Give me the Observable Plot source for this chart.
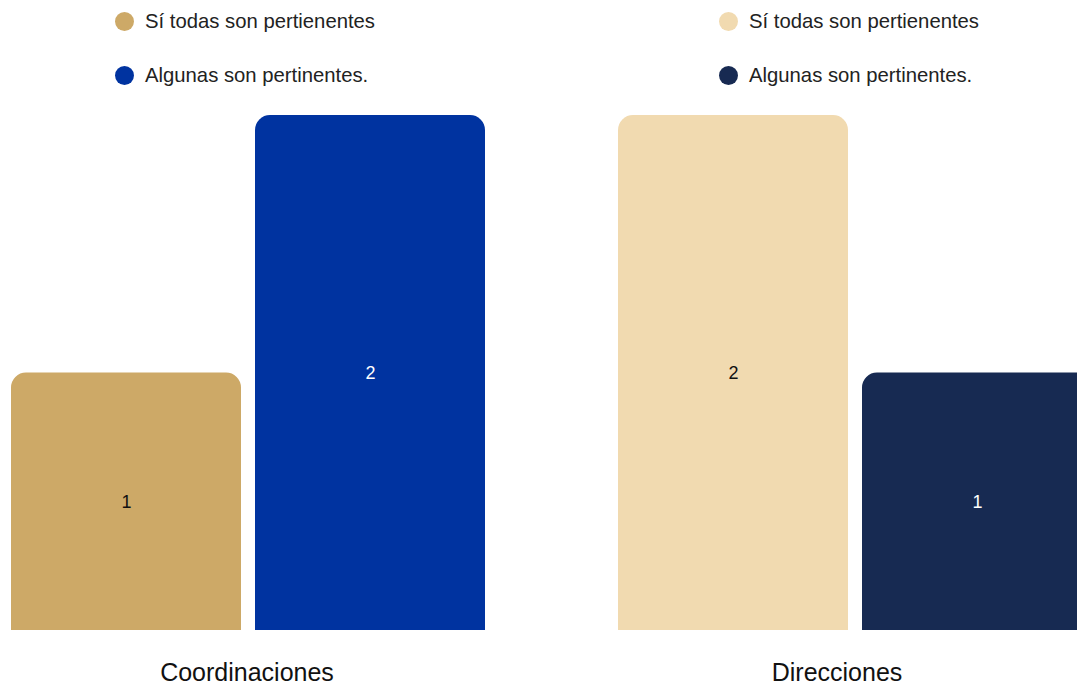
<!DOCTYPE html>
<html>
<head>
<meta charset="utf-8">
<script src="https://cdn.jsdelivr.net/npm/d3@7"></script>
<script src="https://cdn.jsdelivr.net/npm/@observablehq/plot@0.6"></script>
<style>
  html, body { margin: 0; padding: 0; background: #fff; overflow: hidden; }
  body { width: 1077px; height: 685px; position: relative; font-family: "Liberation Sans", Arial, sans-serif; }
  #legend { position: relative; height: 100px; width: 1077px; }
  .item { position: absolute; display: flex; align-items: center; font-size: 20.3px; color: #222; white-space: nowrap; }
  .dot { width: 19px; height: 19px; border-radius: 50%; margin-right: 11px; flex: none; }
  #chart { position: absolute; top: 100px; left: 0; width: 1100px; }
</style>
</head>
<body>
<div id="legend"></div>
<div id="chart"></div>
<script>
// ---- data ----
const groups = ["Coordinaciones", "Direcciones"];
const series = ["Sí todas son pertienentes", "Algunas son pertinentes."];
const coordinacionesValues = [1, 2];
const direccionesValues = [2, 1];

// ---- palette (per group, per series) ----
const palette = {
  "Coordinaciones": ["#CDA967", "#0033A0"],
  "Direcciones": ["#F1DAB0", "#172A52"]
};
const labelInk = {
  "Coordinaciones": ["#111", "#fff"],
  "Direcciones": ["#111", "#fff"]
};

const valuesByGroup = {"Coordinaciones": coordinacionesValues, "Direcciones": direccionesValues};
const data = [];
for (const g of groups) {
  series.forEach((s, i) => data.push({group: g, serie: s, value: valuesByGroup[g][i], key: g + "|" + s}));
}

// ---- legend ----
const legend = document.getElementById("legend");
const legendX = {"Coordinaciones": 115, "Direcciones": 719};
const legendY = [10, 64];
for (const g of groups) {
  series.forEach((s, i) => {
    const it = document.createElement("div");
    it.className = "item";
    it.style.left = legendX[g] + "px";
    it.style.top = legendY[i] + "px";
    it.innerHTML = `<span class="dot" style="background:${palette[g][i]}"></span><span>${s}</span>`;
    legend.appendChild(it);
  });
}

// ---- chart ----
const keys = data.map(d => d.key);
const colors = data.map(d => palette[d.group][series.indexOf(d.serie)]);
const inks = data.map(d => labelInk[d.group][series.indexOf(d.serie)]);

const chart = Plot.plot({
  width: 1100,
  height: 585,
  marginLeft: 11,
  marginRight: 7,
  marginTop: 15,
  marginBottom: 55,
  style: {fontFamily: "Liberation Sans, Arial, sans-serif", background: "transparent", overflow: "visible", maxWidth: "none"},
  fx: {domain: groups, paddingInner: 0.2175, paddingOuter: 0, label: null},
  x: {domain: series, paddingInner: 0.057, paddingOuter: 0, axis: null},
  y: {domain: [0, 2], axis: null},
  color: {domain: keys, range: colors},
  marks: [
    Plot.axisFx({ticks: [groups[0]], anchor: "bottom", tickSize: 0, tickPadding: 33, fontSize: 25, fill: "#111", label: null, dx: -2}),
    Plot.axisFx({ticks: [groups[1]], anchor: "bottom", tickSize: 0, tickPadding: 33, fontSize: 25, fill: "#111", label: null, dx: -19}),
    Plot.barY(data, {fx: "group", x: "serie", y: "value", fill: "key", ry1: 15}),
    Plot.text(data, {fx: "group", x: "serie", y: d => d.value / 2, text: d => String(d.value),
      fill: d => inks[keys.indexOf(d.key)], fontSize: 18})
  ]
});
document.getElementById("chart").appendChild(chart);
</script>
</body>
</html>
